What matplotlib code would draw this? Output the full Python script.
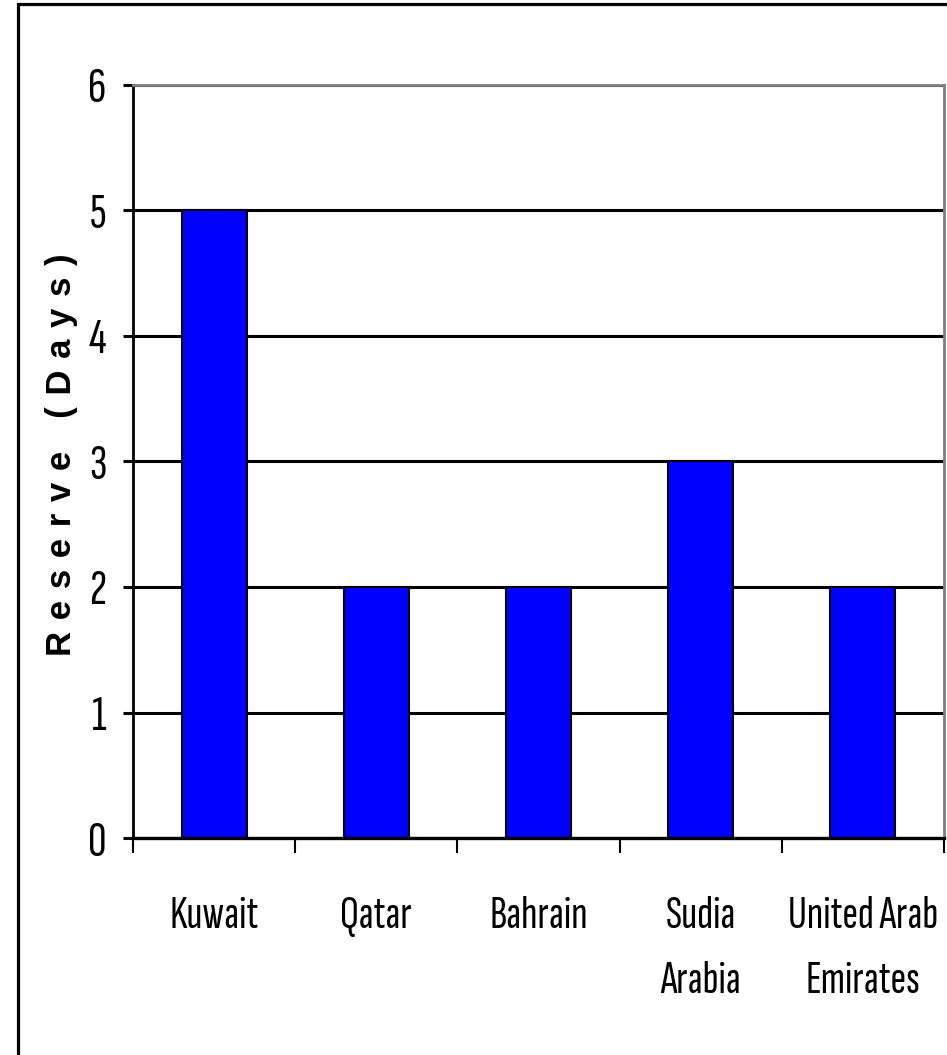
import matplotlib
matplotlib.use("Agg")
import matplotlib.pyplot as plt
from matplotlib.patches import Rectangle
import numpy as np

categories = ["Kuwait", "Qatar", "Bahrain", "Sudia\nArabia", "United Arab\nEmirates"]
values = [5, 2, 2, 3, 2]
yticks = [0, 1, 2, 3, 4, 5, 6]
ylabel = "Reserve (Days)"

W, H = 947, 1055
fig = plt.figure(figsize=(W / 100, H / 100), dpi=100)
fig.patch.set_facecolor("white")

# outer frame
fig.patches.append(Rectangle((18 / W, -0.05), 1.2, 1 - 4 / H + 0.05,
                             transform=fig.transFigure, fill=False,
                             edgecolor="black", linewidth=2.3, zorder=0))

ax = fig.add_axes([133 / W, 1 - 838 / H, (944 - 133) / W, (838 - 85) / H])
narrow = ["Sofia Sans Extra Condensed", "Archivo Narrow", "DejaVu Sans"]

x = np.arange(len(categories))
ax.bar(x, values, width=0.4, color="#0000FF", edgecolor="black",
       linewidth=1.5, zorder=3)

ax.set_xlim(-0.5, len(categories) - 0.5)
ax.set_ylim(0, 6)
ax.set_yticks(yticks)
ax.set_yticklabels([str(t) for t in yticks], fontsize=37, family=narrow)
ax.yaxis.grid(True, color="black", linewidth=2.2, zorder=1)
ax.set_axisbelow(True)

# x: boundary ticks (major) and labels at centers (minor)
ax.set_xticks(np.arange(len(categories) + 1) - 0.5)
ax.set_xticklabels([])
ax.set_xticks(x, minor=True)
ax.set_xticklabels(categories, minor=True, fontsize=34, family=narrow,
                   linespacing=1.75)
ax.tick_params(axis="x", which="major", length=10.8, width=1.5, direction="out")
ax.tick_params(axis="x", which="minor", length=0, pad=42)
ax.tick_params(axis="y", length=7.2, width=2.2, direction="out", pad=12)

for s in ["top", "right"]:
    ax.spines[s].set_color("#808080")
    ax.spines[s].set_linewidth(2)
ax.spines["left"].set_linewidth(2)
ax.spines["bottom"].set_linewidth(2.4)
ax.spines["bottom"].set_zorder(4)

sp = "\u2004"
words = ylabel.split(" ")
spaced = (sp + " " + sp).join(sp.join(list(w)) for w in words)
fig.text(62 / W, 1 - 455 / H, spaced, rotation=90, ha="center", va="center",
         fontsize=25, fontweight="bold", family=["Liberation Sans", "Arimo", "DejaVu Sans"])

fig.savefig("out.png", dpi=100, facecolor="white")
